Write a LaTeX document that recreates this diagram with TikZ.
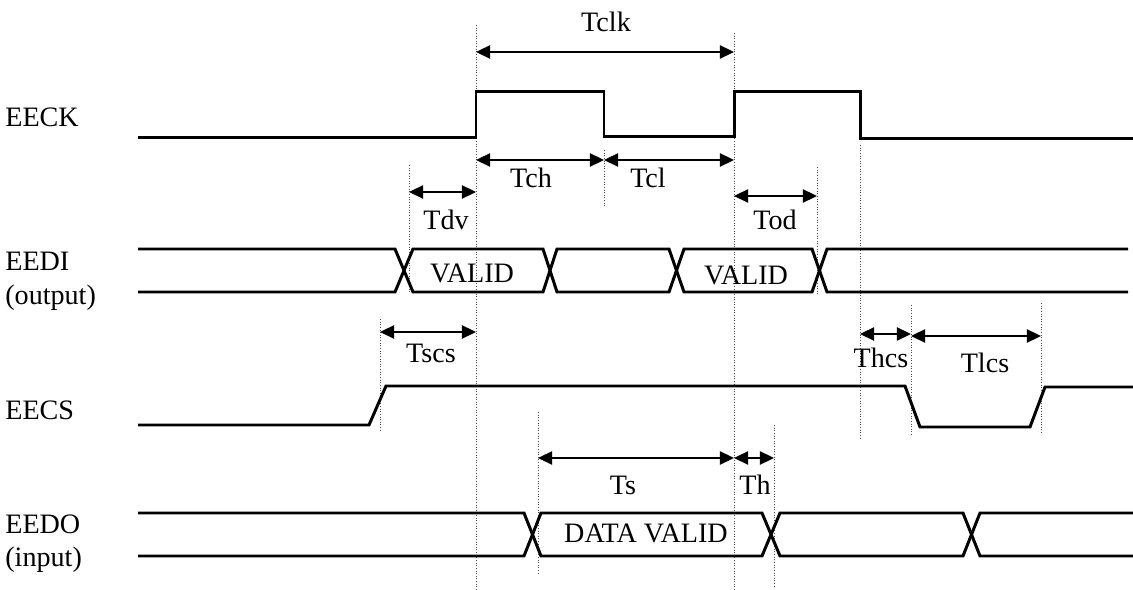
\documentclass[tikz,border=0pt]{standalone}
\usepackage{fontspec}
\setmainfont{Liberation Serif}
\usetikzlibrary{arrows.meta}
\begin{document}
\begin{tikzpicture}[x=0.02cm,y=-0.02cm,
  signal/.style={line width=1.7pt,line join=miter},
  guide/.style={densely dotted,line width=0.5pt,black!70},
  dim/.style={line width=1pt,
    {Triangle[length=8pt,width=7.5pt]}-{Triangle[length=8pt,width=7.5pt]}},
  lbl/.style={font=\fontsize{16}{19}\selectfont,anchor=base,inner sep=0pt},
  sig/.style={font=\fontsize{16}{19}\selectfont,anchor=base west,inner sep=0pt}]
\useasboundingbox (0,0) rectangle (1133,590);

% signal names
\node[sig] (nck) at (5,127) {EECK};
\node[sig] (ndi) at (5,271) {EEDI};
\node[sig] (ndio) at (5,305) {(output)};
\node[sig] (ncs) at (5,420) {EECS};
\node[sig] (ndo) at (5,534) {EEDO};
\node[sig] (ndoi) at (5,567) {(input)};

% dotted reference lines
\draw[guide] (476,25) coordinate (g1t) -- (476,590) coordinate (g1b);
\draw[guide] (734,33) coordinate (g2t) -- (734,590) coordinate (g2b);
\draw[guide] (604,150) -- (604,207);
\draw[guide] (409,165) -- (409,293);
\draw[guide] (817,167) -- (817,295);
\draw[guide] (860,145) -- (860,438);
\draw[guide] (380,319) -- (380,430);
\draw[guide] (538,412) -- (538,575);
\draw[guide] (774,425) -- (774,587);
\draw[guide] (911,305) -- (911,435);
\draw[guide] (1041,303) -- (1041,433);

% EECK
\draw[signal] (138,138) -- (476,138) -- (476,92) -- (604,92) -- (604,137)
  -- (734,137) -- (734,92) -- (860,92) -- (860,139) -- (1133,139);

% EEDI bus
\draw[signal] (138,249) -- (395,249) -- (413,292) -- (543,292) -- (557,249)
  -- (669,249) -- (684,292) -- (812,292) -- (827,249) -- (1128,249);
\draw[signal] (138,292) -- (395,292) -- (413,249) -- (543,249) -- (557,292)
  -- (669,292) -- (684,249) -- (812,249) -- (827,292) -- (1128,292);
\node[lbl] (v1) at (472,283) {VALID};
\node[lbl] (v2) at (746,285) {VALID};

% EECS
\draw[signal] (138,425) -- (369,425) -- (386,386) -- (905,386) -- (920,427)
  -- (1030,427) -- (1045,387) -- (1133,387);

% EEDO bus
\draw[signal] (138,513) -- (524,513) -- (541,556) -- (762,556) -- (780,513)
  -- (963,513) -- (980,556) -- (1133,556);
\draw[signal] (138,556) -- (524,556) -- (541,513) -- (762,513) -- (780,556)
  -- (963,556) -- (980,513) -- (1133,513);
\node[lbl] (dv) at (646,543) {DATA VALID};

% timing marks
\coordinate (clkA) at (476,52);  \coordinate (clkB) at (734,52);
\coordinate (chA) at (476,160);  \coordinate (chB) at (604,160);
\coordinate (clB) at (734,160);
\coordinate (dvA) at (409,192);  \coordinate (dvB) at (476,192);
\coordinate (odA) at (734,196);  \coordinate (odB) at (817,196);
\coordinate (scA) at (380,332);  \coordinate (scB) at (476,332);
\coordinate (hcA) at (860,334);  \coordinate (hcB) at (911,334);
\coordinate (lcA) at (911,336);  \coordinate (lcB) at (1041,336);
\coordinate (sA) at (538,458);   \coordinate (sB) at (734,458);
\coordinate (hB) at (774,458);

\draw[dim] (clkA) -- (clkB);
\draw[dim] (chA) -- (chB);
\draw[dim] (chB) -- (clB);
\draw[dim] (dvA) -- (dvB);
\draw[dim] (odA) -- (odB);
\draw[dim] (scA) -- (scB);
\draw[dim] (hcA) -- (hcB);
\draw[dim] (lcA) -- (lcB);
\draw[dim] (sA) -- (sB);
\draw[dim] (sB) -- (hB);

\node[lbl] (tclk) at (606,32) {Tclk};
\node[lbl] (tch) at (531,188) {Tch};
\node[lbl] (tcl) at (648,188) {Tcl};
\node[lbl] (tdv) at (446,230) {Tdv};
\node[lbl] (tod) at (775,230) {Tod};
\node[lbl] (tscs) at (431,363) {Tscs};
\node[lbl] (thcs) at (881,368) {Thcs};
\node[lbl] (tlcs) at (985,373) {Tlcs};
\node[lbl] (ts) at (623,495) {Ts};
\node[lbl] (th) at (755,495) {Th};
\end{tikzpicture}
\end{document}
